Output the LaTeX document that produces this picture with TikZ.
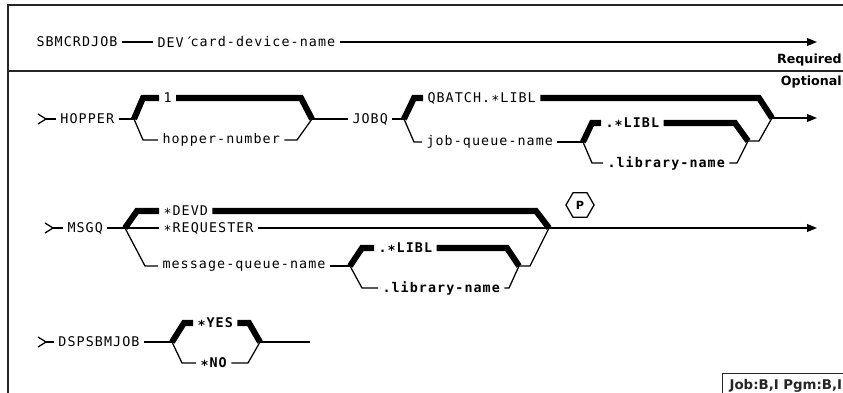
\documentclass[tikz,border=0pt]{standalone}
\usepackage{fontspec}
\newfontfamily\synfont[LetterSpace=8]{DejaVu Sans Mono}
\newfontfamily\lblfont{DejaVu Sans}
\usetikzlibrary{arrows.meta,shapes.geometric}

\begin{document}
\begin{tikzpicture}[
	x=0.025cm, y=-0.025cm,
	kw/.style = {anchor=west, inner sep=3pt, font=\synfont\fontsize{9.5}{11}\selectfont},
	kb/.style = {kw, font=\synfont\bfseries\fontsize{9.5}{11}\selectfont},
	lb/.style = {anchor=east, inner sep=0pt, font=\lblfont\bfseries\fontsize{9}{11}\selectfont},
	thk/.style = {line width=4.3pt},
	thn/.style = {line width=0.9pt},
	arr/.style = {thn, -{Triangle[length=7pt, width=5.5pt]}},
	frm/.style = {line width=0.8pt, black!85}
	]

	\useasboundingbox (0,0) rectangle (843,393);

	%Frame
	\draw[frm]	(843,5) -- (8,5) -- (8,393);
	\draw[frm]	(8,71) -- (843,71);

	%Nodes
	\node[kw]	(sbm)	at	(32,42)		{SBMCRDJOB};
	\node[kw]	(dev)	at	(153,42)	{DEV´};
	\node[kw]	(cdn)	at	(186,42)	{card-device-name};
	\coordinate	(e1)	at	(817,42);
	\node[lb]	(reqd)	at	(842,60)	{Required};
	\node[lb]	(optl)	at	(842,82)	{Optional};

	\coordinate	(hin)	at	(46,119);
	\node[kw]	(hop)	at	(56,119)	{HOPPER};
	\coordinate	(hl)	at	(134,119);
	\node[kw]	(h1)	at	(159,98)	{1};
	\node[kw]	(hnum)	at	(158,140)	{hopper-number};
	\coordinate	(hr)	at	(312,119);
	\node[kw]	(jobq)	at	(348,119)	{JOBQ};
	\coordinate	(jl)	at	(404,119);
	\node[kw]	(qb)	at	(423,98)	{QBATCH.∗LIBL};
	\node[kw]	(jqn)	at	(422,142)	{job-queue-name};
	\coordinate	(jil)	at	(583,142);
	\node[kb]	(jlibl)	at	(601,123)	{.∗LIBL};
	\node[kb]	(jlib)	at	(603,163)	{.library-name};
	\coordinate	(jir)	at	(748,141);
	\coordinate	(jr)	at	(772,118);
	\coordinate	(e2)	at	(817,118);

	\coordinate	(min)	at	(53,228);
	\node[kw]	(msgq)	at	(63,228)	{MSGQ};
	\coordinate	(ml)	at	(125,228);
	\node[kw]	(devd)	at	(159,211)	{∗DEVD};
	\node[kw]	(rqs)	at	(159,228)	{∗REQUESTER};
	\node[kw]	(mqn)	at	(158,266)	{message-queue-name};
	\coordinate	(mil)	at	(350,266);
	\node[kb]	(mlibl)	at	(374,248)	{.∗LIBL};
	\node[kb]	(mlib)	at	(378,288)	{.library-name};
	\coordinate	(mir)	at	(519,266);
	\coordinate	(mr)	at	(549,228);
	\node[draw, thn, regular polygon, regular polygon sides=6, minimum size=20pt, inner sep=0pt,
		font=\lblfont\bfseries\fontsize{8}{9}\selectfont]	(pm)	at	(580,205)	{P};
	\coordinate	(e3)	at	(817,228);

	\coordinate	(din)	at	(46,342);
	\node[kw]	(dsp)	at	(54,342)	{DSPSBMJOB};
	\coordinate	(dl)	at	(172,342);
	\node[kb]	(yes)	at	(193,323)	{∗YES};
	\node[kb]	(no)	at	(196,363)	{∗NO};
	\coordinate	(dr)	at	(260,342);
	\coordinate	(e4)	at	(310,342);

	\node[draw, frm, anchor=north west, inner xsep=5pt, text width=85pt, align=left, minimum height=17pt,
		font=\lblfont\bfseries\fontsize{9.5}{11}\selectfont]	(job)	at	(722,373)	{Job:B,I Pgm:B,I};

	%Lines
	\draw[thn]	(sbm.east) -- (dev.west);
	\draw[arr]	(cdn.east) -- (e1);

	\draw[thn]	(38,114) -- (hin) -- (38,124);
	\draw[thn]	(hin) -- (hop.west);
	\draw[thn]	(hop.east) -- (hl);
	\draw[thk]	(hl) -- (143,98) -- (h1.west);
	\draw[thn]	(hl) -- (143,140) -- (hnum.west);
	\draw[thk]	(h1.east) -- (301,98) -- (hr);
	\draw[thn]	(hnum.east) -- (297,140) -- (hr);
	\draw[thn]	(hr) -- (jobq.west);
	\draw[thn]	(jobq.east) -- (jl);
	\draw[thk]	(jl) -- (414,98) -- (qb.west);
	\draw[thn]	(jl) -- (414,142) -- (jqn.west);
	\draw[thn]	(jqn.east) -- (jil);
	\draw[thk]	(jil) -- (592,123) -- (jlibl.west);
	\draw[thn]	(jil) -- (592,163) -- (jlib.west);
	\draw[thk]	(jlibl.east) -- (735,123) -- (jir);
	\draw[thn]	(jlib.east) -- (737,163) -- (jir);
	\draw[thn]	(jir) -- (759,141) -- (jr);
	\draw[thk]	(qb.east) -- (759,98) -- (jr);
	\draw[arr]	(jr) -- (e2);

	\draw[thn]	(45,223) -- (min) -- (45,233);
	\draw[thn]	(min) -- (msgq.west);
	\draw[thn]	(msgq.east) -- (ml);
	\draw[thk]	(ml) -- (137,211) -- (devd.west);
	\draw[thn]	(ml) -- (rqs.west);
	\draw[thn]	(ml) -- (145,266) -- (mqn.west);
	\draw[thk]	(devd.east) -- (536,211) -- (mr);
	\draw[thn]	(rqs.east) -- (mr);
	\draw[thn]	(mqn.east) -- (mil);
	\draw[thk]	(mil) -- (362,248) -- (mlibl.west);
	\draw[thn]	(mil) -- (362,288) -- (mlib.west);
	\draw[thk]	(mlibl.east) -- (507,248) -- (mir);
	\draw[thn]	(mlib.east) -- (509,288) -- (mir);
	\draw[thn]	(mir) -- (530,266) -- (mr);
	\draw[arr]	(mr) -- (e3);

	\draw[thn]	(38,337) -- (din) -- (38,347);
	\draw[thn]	(din) -- (dsp.west);
	\draw[thn]	(dsp.east) -- (dl);
	\draw[thk]	(dl) -- (184,323) -- (yes.west);
	\draw[thn]	(dl) -- (182,363) -- (no.west);
	\draw[thk]	(yes.east) -- (249,323) -- (dr);
	\draw[thn]	(no.east) -- (248,363) -- (dr);
	\draw[thn]	(dr) -- (e4);
\end{tikzpicture}
\end{document}
